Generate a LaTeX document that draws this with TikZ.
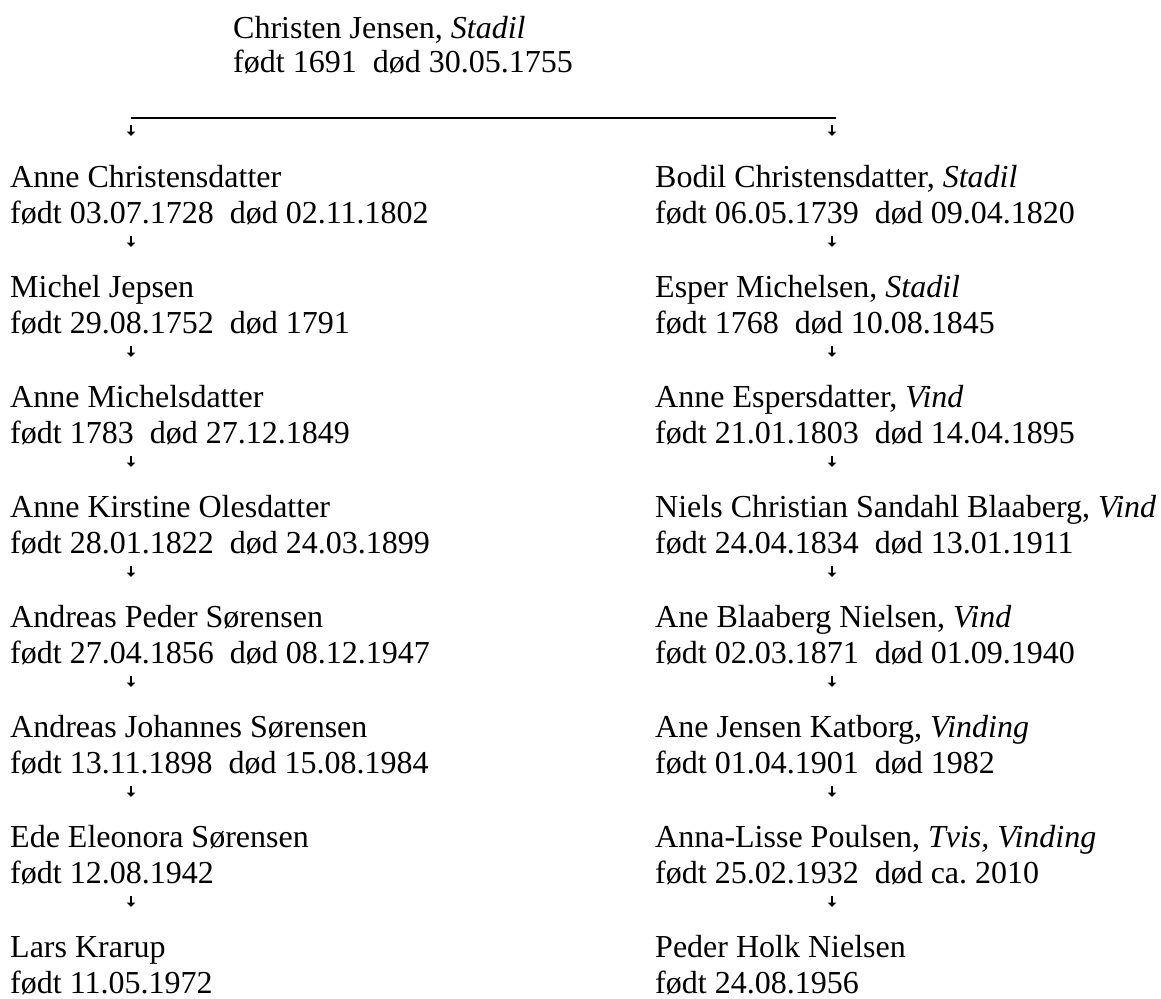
\documentclass[tikz,border=0pt]{standalone}
\usepackage{fontspec}
\setmainfont{Liberation Serif}
\usetikzlibrary{arrows.meta,calc}
\frenchspacing
\begin{document}
\begin{tikzpicture}[x=1pt,y=-1pt,
  txt/.style={anchor=base west, inner sep=0pt, font=\fontsize{32}{36}\selectfont},
  arr/.style={line width=1.3pt, -{Triangle[width=8.5pt,length=4.5pt]}},
  rule/.style={line width=1.4pt}]
\useasboundingbox (0,0) rectangle (1161,998);
% top ancestor
\node[txt] (t0) at (233,38) {Christen Jensen, \textit{Stadil}};
\node[txt] (t0d) at (233,73) {født 1691~~død 30.05.1755};
\coordinate (LS) at (131,118);
\coordinate (LE) at (836,118);
\coordinate (LA) at (131,0);
\coordinate (RA) at (832,0);
\draw[rule] (LS) -- (LE);
% left column
\node[txt] (l1) at (10,187)  {Anne Christensdatter};
\node[txt] (l1d) at (10,223) {født 03.07.1728~~død 02.11.1802};
\node[txt] (l2) at (10,297)  {Michel Jepsen};
\node[txt] (l2d) at (10,333) {født 29.08.1752~~død 1791};
\node[txt] (l3) at (10,407)  {Anne Michelsdatter};
\node[txt] (l3d) at (10,443) {født 1783~~død 27.12.1849};
\node[txt] (l4) at (10,517)  {Anne Kirstine Olesdatter};
\node[txt] (l4d) at (10,553) {født 28.01.1822~~død 24.03.1899};
\node[txt] (l5) at (10,627)  {Andreas Peder Sørensen};
\node[txt] (l5d) at (10,663) {født 27.04.1856~~død 08.12.1947};
\node[txt] (l6) at (10,737)  {Andreas Johannes Sørensen};
\node[txt] (l6d) at (10,773) {født 13.11.1898~~død 15.08.1984};
\node[txt] (l7) at (10,847)  {Ede Eleonora Sørensen};
\node[txt] (l7d) at (10,883) {født 12.08.1942};
\node[txt] (l8) at (10,957)  {Lars Krarup};
\node[txt] (l8d) at (10,993) {født 11.05.1972};
% right column
\node[txt] (r1) at (655,187)  {Bodil Christensdatter, \textit{Stadil}};
\node[txt] (r1d) at (655,223) {født 06.05.1739~~død 09.04.1820};
\node[txt] (r2) at (655,297)  {Esper Michelsen, \textit{Stadil}};
\node[txt] (r2d) at (655,333) {født 1768~~død 10.08.1845};
\node[txt] (r3) at (655,407)  {Anne Espersdatter, \textit{Vind}};
\node[txt] (r3d) at (655,443) {født 21.01.1803~~død 14.04.1895};
\node[txt] (r4) at (655,517)  {Niels Christian Sandahl Blaaberg, \textit{Vind}};
\node[txt] (r4d) at (655,553) {født 24.04.1834~~død 13.01.1911};
\node[txt] (r5) at (655,627)  {Ane Blaaberg Nielsen, \textit{Vind}};
\node[txt] (r5d) at (655,663) {født 02.03.1871~~død 01.09.1940};
\node[txt] (r6) at (655,737)  {Ane Jensen Katborg, \textit{Vinding}};
\node[txt] (r6d) at (655,773) {født 01.04.1901~~død 1982};
\node[txt] (r7) at (655,847)  {Anna-Lisse Poulsen, \textit{Tvis, Vinding}};
\node[txt] (r7d) at (655,883) {født 25.02.1932~~død ca.\ 2010};
\node[txt] (r8) at (655,957)  {Peder Holk Nielsen};
\node[txt] (r8d) at (655,993) {født 24.08.1956};
% arrows from the rule
\draw[arr] ($(LA |- LS)+(0,7)$) -- ($(LA |- l1.base)+(0,-51)$);
\draw[arr] ($(RA |- LE)+(0,7)$) -- ($(RA |- r1.base)+(0,-51)$);
% arrows between generations
\foreach \a/\b in {l1d/l2,l2d/l3,l3d/l4,l4d/l5,l5d/l6,l6d/l7,l7d/l8}{
  \draw[arr] ($(LA |- \a.base)+(0,13)$) -- ($(LA |- \b.base)+(0,-50)$);
}
\foreach \a/\b in {r1d/r2,r2d/r3,r3d/r4,r4d/r5,r5d/r6,r6d/r7,r7d/r8}{
  \draw[arr] ($(RA |- \a.base)+(0,13)$) -- ($(RA |- \b.base)+(0,-50)$);
}
\end{tikzpicture}
\end{document}
